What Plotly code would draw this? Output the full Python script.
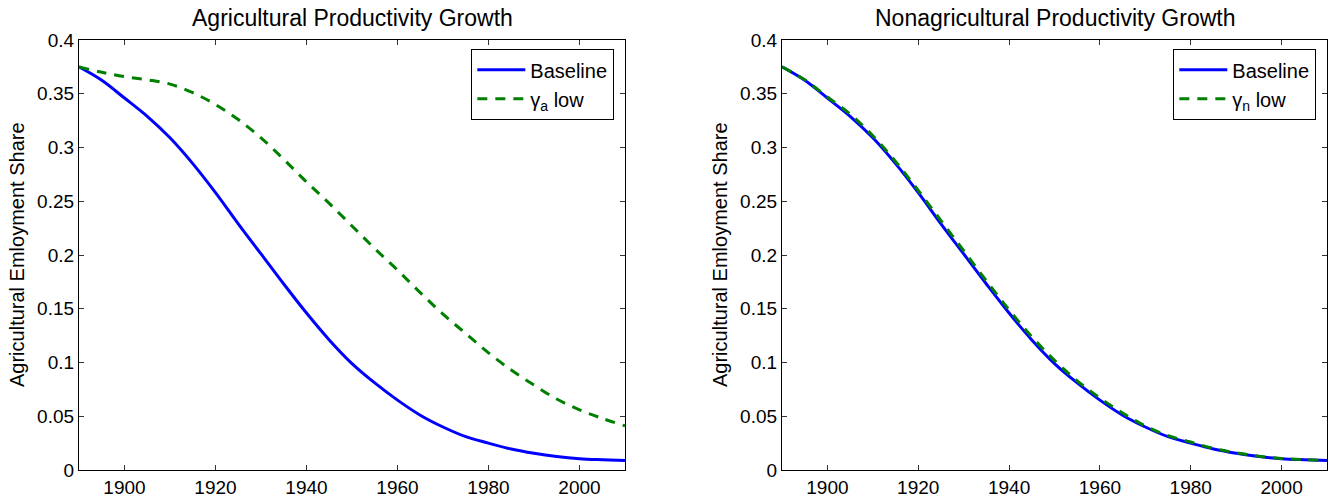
import plotly.graph_objects as go

# ---------------- data ----------------
years = [1890, 1895, 1900, 1905, 1910, 1915, 1920, 1925, 1930, 1935, 1940, 1945,
         1950, 1955, 1960, 1965, 1970, 1975, 1980, 1985, 1990, 1995, 2000, 2005, 2010]

baseline = [0.375, 0.3625, 0.346, 0.329, 0.309, 0.285, 0.258, 0.229, 0.201, 0.173, 0.146, 0.121,
            0.099, 0.081, 0.065, 0.051, 0.040, 0.031, 0.025, 0.0195, 0.0155, 0.0125, 0.0105, 0.0095, 0.0088]

gamma_a_low = [0.375, 0.370, 0.366, 0.363, 0.359, 0.351, 0.340, 0.326, 0.309, 0.289, 0.268, 0.248,
               0.227, 0.206, 0.186, 0.165, 0.145, 0.127, 0.109, 0.093, 0.079, 0.066, 0.056, 0.048, 0.041]

gamma_n_low = [0.375, 0.3630, 0.347, 0.331, 0.311, 0.287, 0.260, 0.232, 0.204, 0.176, 0.149, 0.124,
               0.102, 0.083, 0.067, 0.053, 0.041, 0.032, 0.026, 0.020, 0.016, 0.0128, 0.0107, 0.0096, 0.0089]

x_tickvals = [1900, 1920, 1940, 1960, 1980, 2000]
x_ticktext = ["1900", "1920", "1940", "1960", "1980", "2000"]
y_tickvals = [0, 0.05, 0.1, 0.15, 0.2, 0.25, 0.3, 0.35, 0.4]
y_ticktext = ["0", "0.05", "0.1", "0.15", "0.2", "0.25", "0.3", "0.35", "0.4"]

titles = ["Agricultural Productivity Growth", "Nonagricultural Productivity Growth"]
y_title = "Agricultural Emloyment Share"

# ---------------- figure ----------------
W, H = 1333, 499
FONT = "Liberation Sans, Arial, Helvetica, sans-serif"
FS_TICK = 19
FS_LEG = 20
FS_YT = 20
FS_TITLE = 23

BLUE = "#0000FF"
GREEN = "#008000"

fig = go.Figure()

fig.add_trace(go.Scatter(x=years, y=baseline, mode="lines", name="Baseline",
                         line=dict(color=BLUE, width=3, shape="spline"),
                         xaxis="x", yaxis="y", legend="legend"))
fig.add_trace(go.Scatter(x=years, y=gamma_a_low, mode="lines", name="γ<sub>a</sub> low",
                         line=dict(color=GREEN, width=3, dash="10px,8px", shape="spline"),
                         xaxis="x", yaxis="y", legend="legend"))
fig.add_trace(go.Scatter(x=years, y=baseline, mode="lines", name="Baseline",
                         line=dict(color=BLUE, width=3, shape="spline"),
                         xaxis="x2", yaxis="y2", legend="legend2"))
fig.add_trace(go.Scatter(x=years, y=gamma_n_low, mode="lines", name="γ<sub>n</sub> low",
                         line=dict(color=GREEN, width=3, dash="10px,8px", shape="spline"),
                         xaxis="x2", yaxis="y2", legend="legend2"))

# page-pixel positions
L1, R1 = 79, 625
L2, R2 = 782, 1327
TOP, BOT = 40, 470

def px_x(p):
    return p / W

def px_y(p):
    return 1 - p / H

xaxis_common = dict(range=[1890, 2010], tickvals=x_tickvals, ticktext=x_ticktext,
                    ticks="inside", ticklen=5, tickwidth=1, tickcolor="#333333",
                    showline=True, linecolor="black", linewidth=1.3, mirror="ticks",
                    showgrid=False, zeroline=False, automargin=False,
                    tickfont=dict(family=FONT, size=FS_TICK, color="black"))
yaxis_common = dict(range=[0, 0.4], tickvals=y_tickvals, ticktext=y_ticktext,
                    ticks="inside", ticklen=5, tickwidth=1, tickcolor="#333333",
                    showline=True, linecolor="black", linewidth=1.3, mirror="ticks",
                    showgrid=False, zeroline=False, automargin=False,
                    tickfont=dict(family=FONT, size=FS_TICK, color="black"))

legend_common = dict(bgcolor="white", bordercolor="black", borderwidth=1.3,
                     font=dict(family=FONT, size=FS_LEG, color="black"),
                     xanchor="right", yanchor="top", y=px_y(49),
                     tracegroupgap=0, itemwidth=48)

fig.update_layout(
    template="none",
    width=W, height=H,
    margin=dict(l=0, r=0, t=0, b=0, pad=0, autoexpand=False),
    paper_bgcolor="white", plot_bgcolor="white",
    font=dict(family=FONT, size=FS_TICK, color="black"),
    xaxis=dict(domain=[px_x(L1), px_x(R1)], anchor="y", **xaxis_common),
    yaxis=dict(domain=[px_y(BOT), px_y(TOP)], anchor="x", **yaxis_common),
    xaxis2=dict(domain=[px_x(L2), px_x(R2)], anchor="y2", **xaxis_common),
    yaxis2=dict(domain=[px_y(BOT), px_y(TOP)], anchor="x2", **yaxis_common),
    legend=dict(x=px_x(R1 - 11), **legend_common),
    legend2=dict(x=px_x(R2 - 11), **legend_common),
    showlegend=True,
    hovermode=False,
)

# subplot titles and y-axis titles
for i, (l, r) in enumerate([(L1, R1), (L2, R2)]):
    fig.add_annotation(text=titles[i], xref="paper", yref="paper",
                       x=px_x((l + r) / 2), y=px_y(18), xanchor="center", yanchor="middle",
                       showarrow=False, font=dict(family=FONT, size=FS_TITLE, color="black"))
    fig.add_annotation(text=y_title, xref="paper", yref="paper", textangle=-90,
                       x=px_x(l - 62), y=px_y((TOP + BOT) / 2), xanchor="center", yanchor="middle",
                       showarrow=False, font=dict(family=FONT, size=FS_YT, color="black"))

fig.write_html("out.html",
               config={"displayModeBar": False},
               post_script="document.body.style.margin='0';document.body.style.overflow='hidden';")
